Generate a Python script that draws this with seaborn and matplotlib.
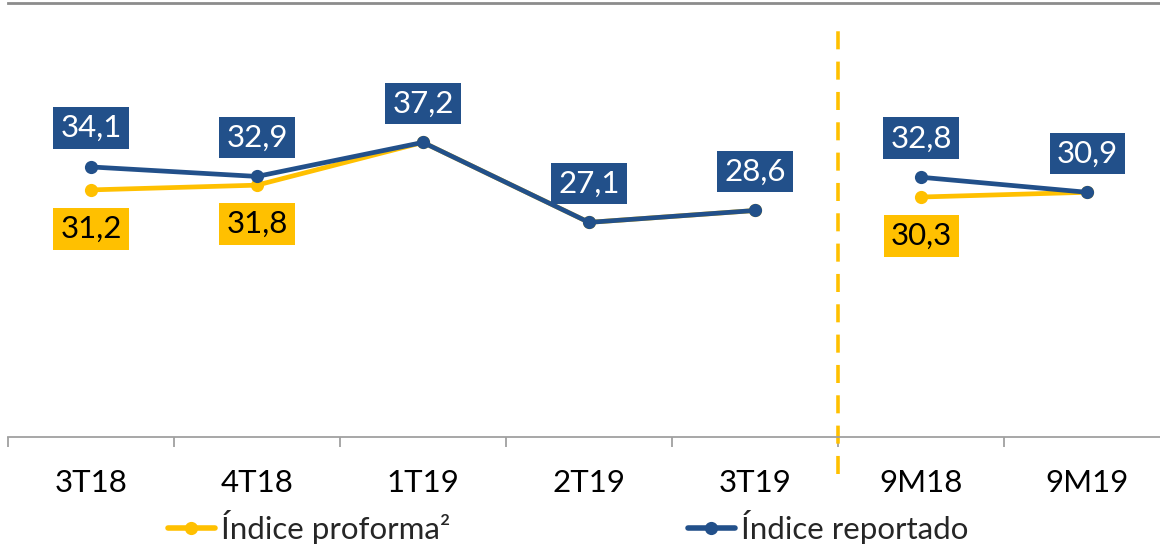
import matplotlib
matplotlib.use('Agg')
import matplotlib.pyplot as plt
import seaborn as sns
import pandas as pd
from matplotlib.lines import Line2D

categories = ["3T18", "4T18", "1T19", "2T19", "3T19", "9M18", "9M19"]
segments = [0, 0, 0, 0, 0, 1, 1]
reportado = [34.1, 32.9, 37.2, 27.1, 28.6, 32.8, 30.9]
proforma = [31.2, 31.8, 37.2, 27.1, 28.6, 30.3, 30.9]
proforma_label_shown = [True, True, False, False, False, True, False]
series_names = ["Índice proforma²", "Índice reportado"]

BLUE = "#22508A"
YELLOW = "#FFC000"
GRAY = "#A0A0A0"

sns.set_theme(style="white")
plt.rcParams['font.family'] = ['Lato', 'DejaVu Sans']

FS = 22.5
W, H = 1160, 544
fig = plt.figure(figsize=(W / 100, H / 100), dpi=100)
ax = fig.add_axes([8 / W, 107 / H, 1162 / W, 434 / H])

rows = []
for i in range(len(categories)):
    rows.append(dict(x=i, value=proforma[i], serie=series_names[0], seg=segments[i]))
for i in range(len(categories)):
    rows.append(dict(x=i, value=reportado[i], serie=series_names[1], seg=segments[i]))
df = pd.DataFrame(rows)

sns.lineplot(data=df, x="x", y="value", hue="serie", units="seg", estimator=None,
             palette=[YELLOW, BLUE], marker='o', markersize=9.5, markeredgewidth=0,
             linewidth=3.4, legend=False, ax=ax, sort=False)

ax.set_xlim(-0.5, len(categories) - 0.5)
ax.set_ylim(0, 54.8)
ax.set_xlabel("")
ax.set_ylabel("")
ax.set_yticks([])

# ticks
ax.set_xticks([i - 0.5 for i in range(len(categories) + 1)])
ax.set_xticklabels([])
ax.set_xticks(range(len(categories)), minor=True)
ax.set_xticklabels(categories, minor=True, fontsize=FS, color="black")
ax.tick_params(axis='x', which='major', length=7, width=1.3, color=GRAY, direction='out', bottom=True)
ax.tick_params(axis='x', which='minor', length=0, pad=23)

for s in ["left", "right"]:
    ax.spines[s].set_visible(False)
ax.spines["bottom"].set_color(GRAY)
ax.spines["bottom"].set_linewidth(1.3)
ax.spines["top"].set_color("#8C8C8C")
ax.spines["top"].set_linewidth(2)

# separator
ax.plot([4.5, 4.5], [-4.7, 52.6], color=YELLOW, lw=2.6, dashes=(5, 3.4), clip_on=False, zorder=1)

# labels
for i, v in enumerate(reportado):
    ax.annotate(f"{v:.1f}".replace(".", ","), xy=(i, v), xytext=(0, 28), textcoords="offset points",
                ha="center", va="center", fontsize=FS, color="white",
                bbox=dict(boxstyle="square,pad=0.22", facecolor=BLUE, edgecolor="none"))
for i, v in enumerate(proforma):
    if proforma_label_shown[i]:
        ax.annotate(f"{v:.1f}".replace(".", ","), xy=(i, v), xytext=(0, -28), textcoords="offset points",
                    ha="center", va="center", fontsize=FS, color="black",
                    bbox=dict(boxstyle="square,pad=0.22", facecolor=YELLOW, edgecolor="none"))

handles = [Line2D([0], [0], color=YELLOW, lw=4, marker='o', markersize=9.5, markeredgewidth=0),
           Line2D([0], [0], color=BLUE, lw=4, marker='o', markersize=9.5, markeredgewidth=0)]
fig.legend(handles, series_names, loc="center", bbox_to_anchor=(568 / W, 17 / H), ncol=2,
           frameon=False, fontsize=FS, handlelength=1.5, handletextpad=0.2, columnspacing=7.6,
           borderaxespad=0, borderpad=0)

fig.savefig("out.png", dpi=100)
